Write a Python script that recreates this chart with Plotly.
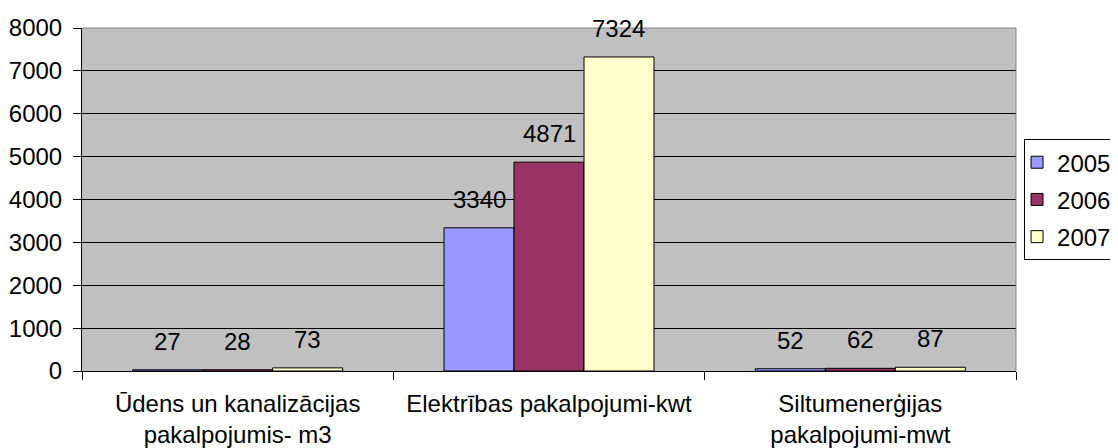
import plotly.graph_objects as go

categories = ["Ūdens un kanalizācijas<br>pakalpojumis- m3",
              "Elektrības pakalpojumi-kwt",
              "Siltumenerģijas<br>pakalpojumi-mwt"]
series_names = ["2005", "2006", "2007"]
values_2005 = [27, 3340, 52]
values_2006 = [28, 4871, 62]
values_2007 = [73, 7324, 87]
y_ticks = [0, 1000, 2000, 3000, 4000, 5000, 6000, 7000, 8000]

series_values = [values_2005, values_2006, values_2007]
colors = ["#9999FF", "#993366", "#FFFFCC"]

# page body has an 8px margin, so the figure is sized to fit inside it
W, H = 1110, 440
ML, MR, MT, MB = 74, 102, 20, 77
BARGAP = 0.3255
FONT = dict(family="Liberation Sans, Arial, sans-serif", size=24, color="black")

plot_w = W - ML - MR
bar_px = plot_w / len(categories) * (1 - BARGAP) / len(series_names)

fig = go.Figure()
for i, (name, vals) in enumerate(zip(series_names, series_values)):
    fig.add_trace(go.Bar(
        x=categories, y=vals, name=name,
        marker=dict(color=colors[i], line=dict(color="black", width=1)),
        legendgroup=name,
    ))
    for c, v in zip(categories, vals):
        fig.add_annotation(x=c, y=v, xref="x", yref="y", text=str(v),
                           showarrow=False, yanchor="bottom",
                           xshift=(i - 1) * bar_px, yshift=13,
                           font=FONT)

fig.update_layout(
    width=W, height=H,
    margin=dict(l=ML, r=MR, t=MT, b=MB, autoexpand=False),
    paper_bgcolor="white", plot_bgcolor="#C0C0C0",
    barmode="group", bargap=BARGAP, bargroupgap=0,
    font=FONT,
    showlegend=True,
    legend=dict(x=1.0086, xanchor="left", y=0.676, yanchor="top",
                bordercolor="black", borderwidth=1, bgcolor="white",
                traceorder="grouped", tracegroupgap=3, indentation=-8,
                font=FONT),
    xaxis=dict(showline=True, linecolor="black", linewidth=1,
               ticks="outside", ticklen=8, tickcolor="black",
               tickson="boundaries", showgrid=False, zeroline=False,
               ticklabelstandoff=11, tickfont=FONT),
    yaxis=dict(range=[0, 8000], tickvals=y_ticks, showline=True,
               linecolor="black", linewidth=1, ticks="outside", ticklen=8,
               tickcolor="black", showgrid=True, gridcolor="black",
               gridwidth=1, zeroline=False, ticklabelstandoff=6,
               tickfont=FONT),
    shapes=[
        dict(type="line", xref="paper", yref="paper", x0=0, x1=1, y0=1, y1=1,
             line=dict(color="#808080", width=1)),
        dict(type="line", xref="paper", yref="paper", x0=1, x1=1, y0=0, y1=1,
             line=dict(color="#808080", width=1)),
    ],
)

fig.write_html("out.html")
